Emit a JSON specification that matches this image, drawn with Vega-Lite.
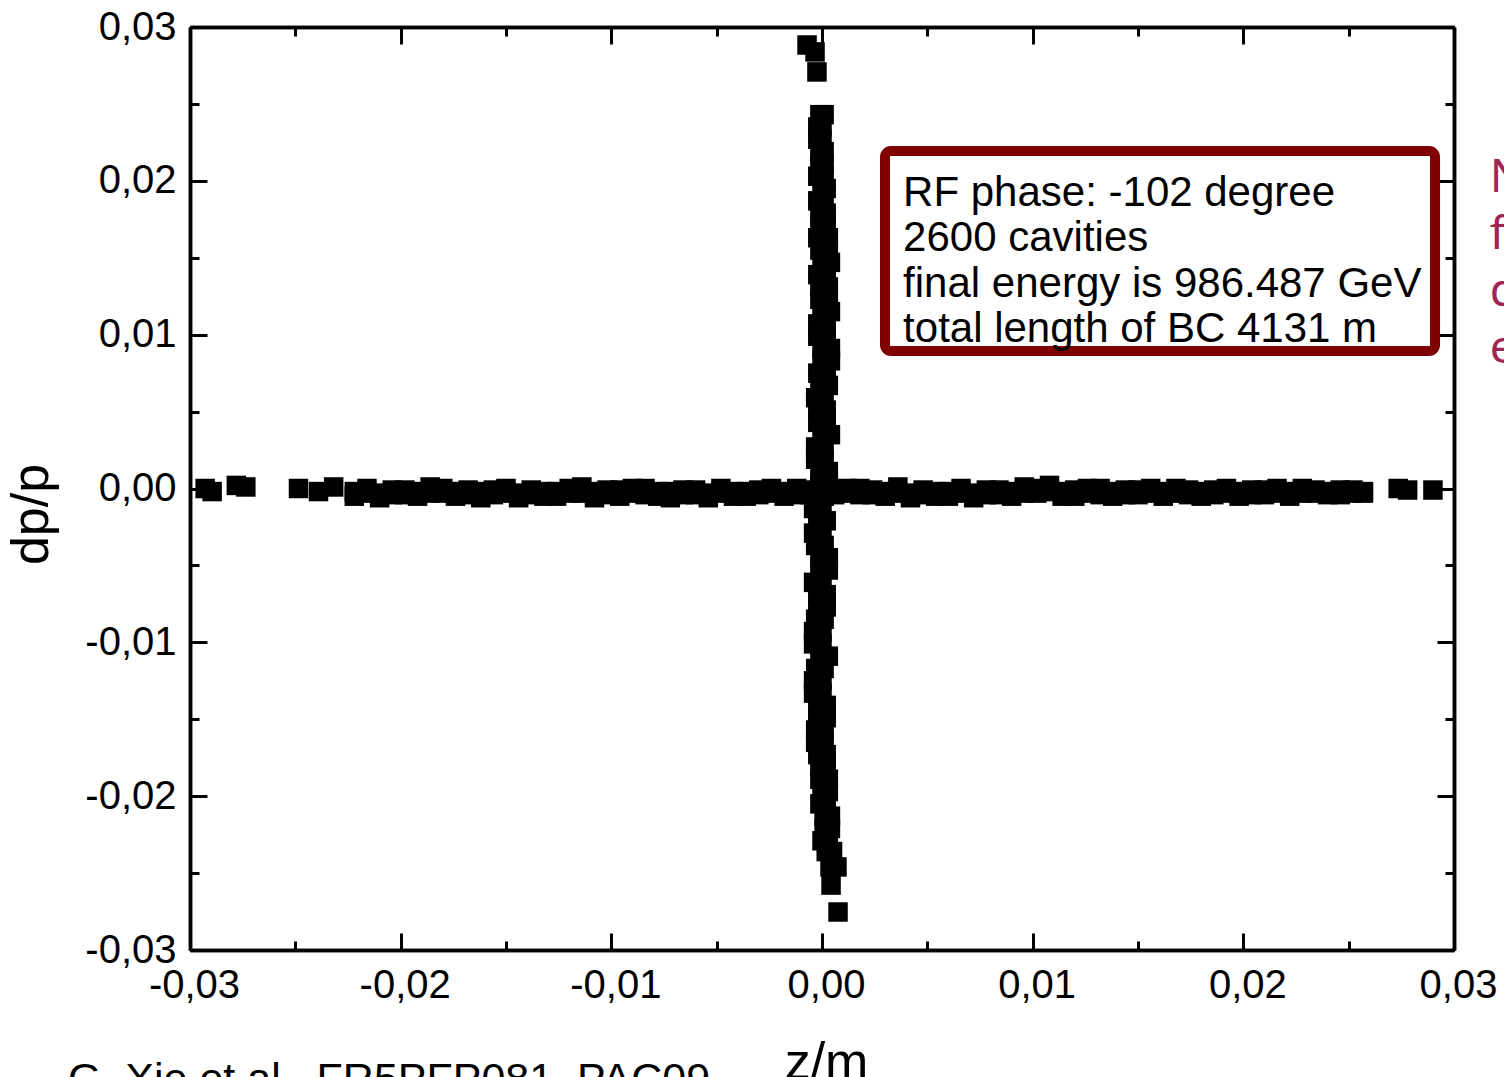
{
  "$schema": "https://vega.github.io/schema/vega-lite/v6.json",
  "autosize": {"type": "none"},
  "padding": {"left": 190, "top": 27, "right": 50, "bottom": 127},
  "width": 1264,
  "height": 923,
  "background": "white",
  "config": {
    "view": {"stroke": null},
    "axis": {
      "grid": false,
      "domainColor": "black",
      "domainWidth": 3.5,
      "tickColor": "black",
      "tickWidth": 3,
      "labelFont": "Liberation Sans",
      "labelFontSize": 40,
      "labelColor": "black",
      "labelFlush": false,
      "labelOverlap": false,
      "labelBound": false,
      "titleFont": "Liberation Sans",
      "titleFontSize": 52,
      "titleFontWeight": "normal",
      "titleColor": "black"
    }
  },
  "datasets": {
    "pts": [
      {"z": -0.02928, "dp": 0.0000},
      {"z": -0.02895, "dp": -0.0002},
      {"z": -0.02780, "dp": 0.0002},
      {"z": -0.02735, "dp": 0.0001},
      {"z": -0.02485, "dp": 0.0000},
      {"z": -0.02390, "dp": -0.0002},
      {"z": -0.02318, "dp": 0.0001},
      {"z": -0.0222, "dp": -0.0002}, {"z": -0.0222, "dp": -0.0005},
      {"z": -0.0216, "dp": 0.0000}, {"z": -0.0216, "dp": -0.0003},
      {"z": -0.0210, "dp": -0.0003}, {"z": -0.0210, "dp": -0.0006},
      {"z": -0.0204, "dp": -0.0001}, {"z": -0.0204, "dp": -0.0004},
      {"z": -0.0198, "dp": -0.0004}, {"z": -0.0198, "dp": -0.0001},
      {"z": -0.0192, "dp": -0.0002}, {"z": -0.0192, "dp": -0.0005},
      {"z": -0.0186, "dp": 0.0001}, {"z": -0.0186, "dp": -0.0003},
      {"z": -0.0180, "dp": -0.0003}, {"z": -0.0180, "dp": 0.0000},
      {"z": -0.0174, "dp": -0.0005}, {"z": -0.0174, "dp": -0.0002},
      {"z": -0.0168, "dp": -0.0001}, {"z": -0.0168, "dp": -0.0004},
      {"z": -0.0162, "dp": -0.0002}, {"z": -0.0162, "dp": -0.0006},
      {"z": -0.0156, "dp": -0.0004}, {"z": -0.0156, "dp": -0.0001},
      {"z": -0.0150, "dp": 0.0000}, {"z": -0.0150, "dp": -0.0003},
      {"z": -0.0144, "dp": -0.0003}, {"z": -0.0144, "dp": -0.0006},
      {"z": -0.0138, "dp": -0.0001}, {"z": -0.0138, "dp": -0.0004},
      {"z": -0.0132, "dp": -0.0005}, {"z": -0.0132, "dp": -0.0002},
      {"z": -0.0126, "dp": -0.0002}, {"z": -0.0126, "dp": -0.0005},
      {"z": -0.0120, "dp": -0.0003}, {"z": -0.0120, "dp": 0.0000},
      {"z": -0.0114, "dp": 0.0001}, {"z": -0.0114, "dp": -0.0003},
      {"z": -0.0108, "dp": -0.0002}, {"z": -0.0108, "dp": -0.0006},
      {"z": -0.0102, "dp": -0.0004}, {"z": -0.0102, "dp": -0.0001},
      {"z": -0.0096, "dp": -0.0001}, {"z": -0.0096, "dp": -0.0005},
      {"z": -0.0090, "dp": -0.0003}, {"z": -0.0090, "dp": 0.0000},
      {"z": -0.0084, "dp": 0.0000}, {"z": -0.0084, "dp": -0.0004},
      {"z": -0.0078, "dp": -0.0005}, {"z": -0.0078, "dp": -0.0002},
      {"z": -0.0072, "dp": -0.0002}, {"z": -0.0072, "dp": -0.0006},
      {"z": -0.0066, "dp": -0.0001}, {"z": -0.0066, "dp": -0.0004},
      {"z": -0.0060, "dp": -0.0004}, {"z": -0.0060, "dp": -0.0001},
      {"z": -0.0054, "dp": -0.0003}, {"z": -0.0054, "dp": -0.0006},
      {"z": -0.0048, "dp": 0.0000}, {"z": -0.0048, "dp": -0.0003},
      {"z": -0.0042, "dp": -0.0002}, {"z": -0.0042, "dp": -0.0005},
      {"z": -0.0036, "dp": -0.0005}, {"z": -0.0036, "dp": -0.0002},
      {"z": -0.0030, "dp": -0.0001}, {"z": -0.0030, "dp": -0.0004},
      {"z": -0.0024, "dp": -0.0003}, {"z": -0.0024, "dp": 0.0000},
      {"z": -0.0018, "dp": -0.0002}, {"z": -0.0018, "dp": -0.0005},
      {"z": -0.0012, "dp": 0.0000}, {"z": -0.0012, "dp": -0.0004},
      {"z": -0.0006, "dp": -0.0004}, {"z": -0.0006, "dp": -0.0001},
      {"z": 0.0000, "dp": -0.0002}, {"z": 0.0000, "dp": -0.0005},
      {"z": 0.0006, "dp": -0.0001}, {"z": 0.0006, "dp": -0.0004},
      {"z": 0.0012, "dp": -0.0003}, {"z": 0.0012, "dp": 0.0000},
      {"z": 0.0018, "dp": 0.0000}, {"z": 0.0018, "dp": -0.0004},
      {"z": 0.0024, "dp": -0.0004}, {"z": 0.0024, "dp": -0.0001},
      {"z": 0.0030, "dp": -0.0002}, {"z": 0.0030, "dp": -0.0005},
      {"z": 0.0036, "dp": 0.0001}, {"z": 0.0036, "dp": -0.0003},
      {"z": 0.0042, "dp": -0.0003}, {"z": 0.0042, "dp": -0.0006},
      {"z": 0.0048, "dp": -0.0001}, {"z": 0.0048, "dp": -0.0004},
      {"z": 0.0054, "dp": -0.0005}, {"z": 0.0054, "dp": -0.0002},
      {"z": 0.0060, "dp": -0.0002}, {"z": 0.0060, "dp": -0.0005},
      {"z": 0.0066, "dp": 0.0000}, {"z": 0.0066, "dp": -0.0003},
      {"z": 0.0072, "dp": -0.0003}, {"z": 0.0072, "dp": -0.0006},
      {"z": 0.0078, "dp": -0.0001}, {"z": 0.0078, "dp": -0.0004},
      {"z": 0.0084, "dp": -0.0004}, {"z": 0.0084, "dp": -0.0001},
      {"z": 0.0090, "dp": -0.0002}, {"z": 0.0090, "dp": -0.0005},
      {"z": 0.0096, "dp": 0.0001}, {"z": 0.0096, "dp": -0.0003},
      {"z": 0.0102, "dp": -0.0003}, {"z": 0.0102, "dp": 0.0000},
      {"z": 0.0108, "dp": -0.0002}, {"z": 0.0108, "dp": 0.0002},
      {"z": 0.0114, "dp": -0.0005}, {"z": 0.0114, "dp": -0.0002},
      {"z": 0.0120, "dp": -0.0001}, {"z": 0.0120, "dp": -0.0005},
      {"z": 0.0126, "dp": -0.0003}, {"z": 0.0126, "dp": 0.0000},
      {"z": 0.0132, "dp": 0.0000}, {"z": 0.0132, "dp": -0.0004},
      {"z": 0.0138, "dp": -0.0002}, {"z": 0.0138, "dp": -0.0005},
      {"z": 0.0144, "dp": -0.0004}, {"z": 0.0144, "dp": -0.0001},
      {"z": 0.0150, "dp": -0.0001}, {"z": 0.0150, "dp": -0.0004},
      {"z": 0.0156, "dp": -0.0003}, {"z": 0.0156, "dp": 0.0000},
      {"z": 0.0162, "dp": -0.0002}, {"z": 0.0162, "dp": -0.0005},
      {"z": 0.0168, "dp": 0.0000}, {"z": 0.0168, "dp": -0.0003},
      {"z": 0.0174, "dp": -0.0004}, {"z": 0.0174, "dp": -0.0001},
      {"z": 0.0180, "dp": -0.0002}, {"z": 0.0180, "dp": -0.0005},
      {"z": 0.0186, "dp": -0.0001}, {"z": 0.0186, "dp": -0.0004},
      {"z": 0.0192, "dp": -0.0003}, {"z": 0.0192, "dp": 0.0000},
      {"z": 0.0198, "dp": -0.0002}, {"z": 0.0198, "dp": -0.0005},
      {"z": 0.0204, "dp": -0.0004}, {"z": 0.0204, "dp": -0.0001},
      {"z": 0.0210, "dp": -0.0001}, {"z": 0.0210, "dp": -0.0004},
      {"z": 0.0216, "dp": -0.0003}, {"z": 0.0216, "dp": 0.0000},
      {"z": 0.0222, "dp": -0.0002}, {"z": 0.0222, "dp": -0.0005},
      {"z": 0.0228, "dp": 0.0000}, {"z": 0.0228, "dp": -0.0003},
      {"z": 0.0234, "dp": -0.0003}, {"z": 0.0234, "dp": -0.0001},
      {"z": 0.0240, "dp": -0.0002}, {"z": 0.0240, "dp": -0.0004},
      {"z": 0.0246, "dp": -0.0004}, {"z": 0.0246, "dp": -0.0001},
      {"z": 0.0252, "dp": -0.0001}, {"z": 0.0252, "dp": -0.0003},
      {"z": 0.0257, "dp": -0.0002}, {"z": 0.0257, "dp": -0.0003},
      {"z": 0.02735, "dp": 0.0000},
      {"z": 0.02780, "dp": -0.0001},
      {"z": 0.02900, "dp": -0.0001},
      {"z": -0.00071, "dp": 0.02883},
      {"z": -0.00033, "dp": 0.02838},
      {"z": -0.00024, "dp": 0.02708},
      {"z": -0.0001, "dp": 0.0243}, {"z": 0.0001, "dp": 0.0243},
      {"z": -0.0002, "dp": 0.0235}, {"z": 0.0000, "dp": 0.0235},
      {"z": 0.0000, "dp": 0.0227}, {"z": -0.0002, "dp": 0.0227},
      {"z": -0.0001, "dp": 0.0219}, {"z": 0.0001, "dp": 0.0219},
      {"z": 0.0001, "dp": 0.0211}, {"z": -0.0001, "dp": 0.0211},
      {"z": -0.0002, "dp": 0.0203}, {"z": 0.0001, "dp": 0.0203},
      {"z": 0.0000, "dp": 0.0195}, {"z": 0.0002, "dp": 0.0195},
      {"z": 0.0001, "dp": 0.0187}, {"z": -0.0002, "dp": 0.0187},
      {"z": -0.0001, "dp": 0.0179}, {"z": 0.0002, "dp": 0.0179},
      {"z": 0.0002, "dp": 0.0171}, {"z": -0.0001, "dp": 0.0171},
      {"z": -0.0002, "dp": 0.0163}, {"z": 0.0003, "dp": 0.0163},
      {"z": 0.0003, "dp": 0.0155}, {"z": -0.0001, "dp": 0.0155},
      {"z": 0.0000, "dp": 0.0147}, {"z": 0.0004, "dp": 0.0147},
      {"z": 0.0002, "dp": 0.0139}, {"z": -0.0002, "dp": 0.0139},
      {"z": -0.0001, "dp": 0.0131}, {"z": 0.0003, "dp": 0.0131},
      {"z": 0.0003, "dp": 0.0123}, {"z": -0.0001, "dp": 0.0123},
      {"z": 0.0000, "dp": 0.0115}, {"z": 0.0004, "dp": 0.0115},
      {"z": -0.0002, "dp": 0.0107}, {"z": 0.0002, "dp": 0.0107},
      {"z": 0.0002, "dp": 0.0099}, {"z": -0.0002, "dp": 0.0099},
      {"z": 0.0004, "dp": 0.0091}, {"z": 0.0000, "dp": 0.0091},
      {"z": 0.0000, "dp": 0.0083}, {"z": 0.0004, "dp": 0.0083},
      {"z": -0.0002, "dp": 0.0075}, {"z": 0.0002, "dp": 0.0075},
      {"z": 0.0003, "dp": 0.0067}, {"z": -0.0001, "dp": 0.0067},
      {"z": 0.0001, "dp": 0.0059}, {"z": -0.0003, "dp": 0.0059},
      {"z": -0.0002, "dp": 0.0051}, {"z": 0.0002, "dp": 0.0051},
      {"z": 0.0002, "dp": 0.0043}, {"z": -0.0002, "dp": 0.0043},
      {"z": 0.0000, "dp": 0.0035}, {"z": 0.0004, "dp": 0.0035},
      {"z": -0.0003, "dp": 0.0027}, {"z": 0.0001, "dp": 0.0027},
      {"z": 0.0001, "dp": 0.0019}, {"z": -0.0003, "dp": 0.0019},
      {"z": 0.0003, "dp": 0.0011}, {"z": -0.0001, "dp": 0.0011},
      {"z": -0.0001, "dp": 0.0003}, {"z": 0.0003, "dp": 0.0003},
      {"z": 0.0001, "dp": -0.0005}, {"z": -0.0003, "dp": -0.0005},
      {"z": -0.0004, "dp": -0.0013}, {"z": 0.0000, "dp": -0.0013},
      {"z": 0.0002, "dp": -0.0021}, {"z": -0.0002, "dp": -0.0021},
      {"z": 0.0000, "dp": -0.0029}, {"z": -0.0004, "dp": -0.0029},
      {"z": -0.0003, "dp": -0.0037}, {"z": 0.0001, "dp": -0.0037},
      {"z": 0.0003, "dp": -0.0045}, {"z": -0.0001, "dp": -0.0045},
      {"z": -0.0001, "dp": -0.0053}, {"z": 0.0003, "dp": -0.0053},
      {"z": -0.0004, "dp": -0.0061}, {"z": 0.0000, "dp": -0.0061},
      {"z": 0.0002, "dp": -0.0069}, {"z": -0.0002, "dp": -0.0069},
      {"z": -0.0002, "dp": -0.0077}, {"z": 0.0002, "dp": -0.0077},
      {"z": 0.0001, "dp": -0.0085}, {"z": -0.0003, "dp": -0.0085},
      {"z": -0.0004, "dp": -0.0093}, {"z": 0.0000, "dp": -0.0093},
      {"z": 0.0000, "dp": -0.0101}, {"z": -0.0004, "dp": -0.0101},
      {"z": 0.0003, "dp": -0.0109}, {"z": -0.0001, "dp": -0.0109},
      {"z": -0.0003, "dp": -0.0117}, {"z": 0.0001, "dp": -0.0117},
      {"z": 0.0000, "dp": -0.0125}, {"z": -0.0004, "dp": -0.0125},
      {"z": -0.0004, "dp": -0.0133}, {"z": 0.0000, "dp": -0.0133},
      {"z": 0.0002, "dp": -0.0141}, {"z": -0.0002, "dp": -0.0141},
      {"z": -0.0002, "dp": -0.0149}, {"z": 0.0002, "dp": -0.0149},
      {"z": 0.0001, "dp": -0.0157}, {"z": -0.0003, "dp": -0.0157},
      {"z": -0.0003, "dp": -0.0165}, {"z": 0.0001, "dp": -0.0165},
      {"z": 0.0002, "dp": -0.0173}, {"z": -0.0002, "dp": -0.0173},
      {"z": -0.0001, "dp": -0.0181}, {"z": 0.0002, "dp": -0.0181},
      {"z": 0.0003, "dp": -0.0189}, {"z": -0.0001, "dp": -0.0189},
      {"z": 0.0000, "dp": -0.0197}, {"z": 0.0003, "dp": -0.0197},
      {"z": 0.0002, "dp": -0.0205}, {"z": -0.0001, "dp": -0.0205},
      {"z": 0.0004, "dp": -0.0213}, {"z": 0.0001, "dp": -0.0213},
      {"z": 0.0001, "dp": -0.0221}, {"z": 0.0004, "dp": -0.0221},
      {"z": 0.0003, "dp": -0.0229}, {"z": 0.0000, "dp": -0.0229},
      {"z": 0.0002, "dp": -0.0236}, {"z": 0.0005, "dp": -0.0236},
      {"z": 0.00038, "dp": -0.0246},
      {"z": 0.00071, "dp": -0.0246},
      {"z": 0.00043, "dp": -0.02578},
      {"z": 0.00076, "dp": -0.02753}
    ]
  },
  "resolve": {
    "scale": {"x": "shared", "y": "shared"},
    "axis": {"x": "independent", "y": "independent"}
  },
  "layer": [
    {
      "data": {"name": "pts"},
      "mark": {"type": "square", "size": 380, "filled": true, "color": "black", "opacity": 1, "strokeWidth": 0},
      "encoding": {
        "x": {
          "field": "z", "type": "quantitative",
          "scale": {"domain": [-0.03, 0.03], "nice": false, "zero": false},
          "axis": {
            "orient": "bottom",
            "values": [-0.03, -0.02, -0.01, 0, 0.01, 0.02, 0.03],
            "tickSize": -17,
            "labelPadding": 32,
            "labelOffset": 4,
            "labelExpr": "(datum.value < -0.000001 ? '-' : '') + replace(format(abs(datum.value), '.2f'), '.', ',')",
            "title": "z/m",
            "titleX": 636,
            "titleY": 128,
            "titleBaseline": "alphabetic",
            "titleAnchor": "middle",
            "titleAlign": "center"
          }
        },
        "y": {
          "field": "dp", "type": "quantitative",
          "scale": {"domain": [-0.03, 0.03], "nice": false, "zero": false},
          "axis": {
            "orient": "left",
            "values": [-0.03, -0.02, -0.01, 0, 0.01, 0.02, 0.03],
            "tickSize": -17,
            "labelPadding": 31,
            "labelExpr": "(datum.value < -0.000001 ? '-' : '') + replace(format(abs(datum.value), '.2f'), '.', ',')",
            "title": "dp/p",
            "titleX": -143,
            "titleY": 487,
            "titleAngle": -90,
            "titleBaseline": "alphabetic",
            "titleAlign": "center"
          }
        }
      }
    },
    {
      "data": {"values": [{}]},
      "mark": {"type": "rect", "fill": "white", "stroke": "#7f0000", "strokeWidth": 10, "cornerRadius": 6},
      "encoding": {
        "x": {
          "datum": 0.00299, "type": "quantitative",
          "scale": {"domain": [-0.03, 0.03], "nice": false, "zero": false},
          "axis": {
            "orient": "bottom",
            "values": [-0.025, -0.015, -0.005, 0.005, 0.015, 0.025],
            "tickSize": -9, "labels": false, "title": null
          }
        },
        "x2": {"datum": 0.0291},
        "y": {
          "datum": 0.02194, "type": "quantitative",
          "scale": {"domain": [-0.03, 0.03], "nice": false, "zero": false},
          "axis": {
            "orient": "left",
            "values": [-0.025, -0.015, -0.005, 0.005, 0.015, 0.025],
            "tickSize": -9, "labels": false, "title": null
          }
        },
        "y2": {"datum": 0.00894}
      }
    },
    {
      "data": {"values": [{}]},
      "mark": {"type": "text", "font": "Liberation Sans", "fontSize": 42, "lineHeight": 45.5, "align": "left", "baseline": "alphabetic", "color": "black",
        "text": ["RF phase: -102 degree", "2600 cavities", "final energy is 986.487 GeV", "total length of BC 4131 m"]},
      "encoding": {
        "x": {
          "datum": 0.00385, "type": "quantitative",
          "scale": {"domain": [-0.03, 0.03], "nice": false, "zero": false},
          "axis": {
            "orient": "top",
            "values": [-0.03, -0.02, -0.01, 0, 0.01, 0.02, 0.03],
            "tickSize": -17, "labels": false, "title": null
          }
        },
        "y": {
          "datum": 0.01837, "type": "quantitative",
          "scale": {"domain": [-0.03, 0.03], "nice": false, "zero": false},
          "axis": {
            "orient": "right",
            "values": [-0.03, -0.02, -0.01, 0, 0.01, 0.02, 0.03],
            "tickSize": -17, "labels": false, "title": null
          }
        }
      }
    },
    {
      "data": {"values": [{}]},
      "mark": {"type": "text", "font": "Noto Sans", "fontSize": 46, "lineHeight": 57, "align": "left", "baseline": "alphabetic", "color": "#a02552",
        "text": ["N", "f", "d", "e"]},
      "encoding": {
        "x": {
          "datum": 0.0317, "type": "quantitative",
          "scale": {"domain": [-0.03, 0.03], "nice": false, "zero": false},
          "axis": {
            "orient": "top",
            "values": [-0.025, -0.015, -0.005, 0.005, 0.015, 0.025],
            "tickSize": -9, "labels": false, "title": null
          }
        },
        "y": {
          "datum": 0.01927, "type": "quantitative",
          "scale": {"domain": [-0.03, 0.03], "nice": false, "zero": false},
          "axis": {
            "orient": "right",
            "values": [-0.025, -0.015, -0.005, 0.005, 0.015, 0.025],
            "tickSize": -9, "labels": false, "title": null
          }
        }
      }
    },
    {
      "data": {"values": [{}]},
      "mark": {"type": "text", "font": "Liberation Sans", "fontSize": 43, "align": "left", "baseline": "alphabetic", "color": "black",
        "text": "G. Xie et al., FR5PFP081, PAC09"},
      "encoding": {
        "x": {
          "datum": -0.03579, "type": "quantitative",
          "scale": {"domain": [-0.03, 0.03], "nice": false, "zero": false},
          "axis": null
        },
        "y": {
          "datum": -0.0393, "type": "quantitative",
          "scale": {"domain": [-0.03, 0.03], "nice": false, "zero": false},
          "axis": null
        }
      }
    }
  ]
}
